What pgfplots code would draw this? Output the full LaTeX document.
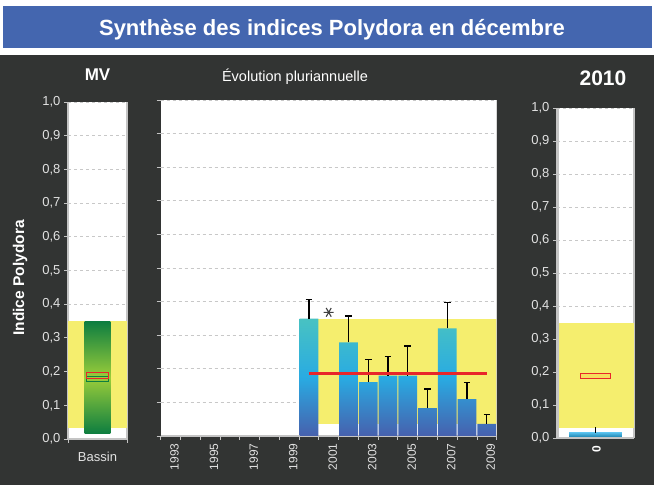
\documentclass[border=0pt]{standalone}
\usepackage{fontspec}
\setmainfont{Liberation Sans}
\usepackage{pgfplots}
\pgfplotsset{compat=1.18}
\usepackage{pgfplotstable}

\definecolor{bgdark}{HTML}{323433}
\definecolor{titleblue}{HTML}{4466AF}
\definecolor{bandyellow}{HTML}{F5EE6E}
\definecolor{ticklab}{HTML}{E2E2E2}
\definecolor{spine}{HTML}{C4C4C4}
\definecolor{gridc}{HTML}{C8C8C8}
\definecolor{barTop}{HTML}{48C2C2}
\definecolor{barMid}{HTML}{29ABE2}
\definecolor{barBot}{HTML}{4760AD}
\definecolor{gDark}{HTML}{0E7E40}
\definecolor{gLight}{HTML}{9ACD3A}
\definecolor{lineRed}{HTML}{E8262A}

\pgfplotstableread{
year val err
2000 0.349 0.057
2002 0.279 0.078
2003 0.160 0.068
2004 0.180 0.057
2005 0.180 0.088
2006 0.083 0.057
2007 0.320 0.077
2008 0.110 0.049
2009 0.036 0.027
}\evol

\pgfplotsset{
  panel/.style={
    scale only axis,
    axis background/.style={fill=white},
    ymin=0, ymax=1,
    ytick={0,0.1,0.2,0.3,0.4,0.5,0.6,0.7,0.8,0.9,1.0},
    ymajorgrids,
    grid style={dashed, gridc, line width=0.6pt},
    tick align=outside,
    major tick length=4pt,
    minor tick length=4pt,
    tick style={draw=spine, line width=0.8pt},
    ytick pos=left,
    xtick pos=bottom,
    tick label style={font=\fontsize{13}{15}\selectfont, text=ticklab},
    yticklabel={\pgfmathprintnumber[assume math mode=true, use comma, fixed, fixed zerofill, precision=1]{\tick}},
  },
}

\begin{document}
\begin{tikzpicture}
\useasboundingbox (0pt,0pt) rectangle (654pt,485pt);
\fill[white] (0pt,0pt) rectangle (654pt,485pt);
\fill[bgdark] (0pt,0pt) rectangle (654pt,429.5pt);
\fill[titleblue] (2.5pt,437pt) rectangle (652pt,479pt);
\node[anchor=base, text=white, font=\fontsize{22}{26}\selectfont\bfseries] at (332pt,449pt) {Synthèse des indices Polydora en décembre};

\node[text=white, font=\fontsize{17}{20}\selectfont\bfseries] at (97.5pt,410pt) {MV};
\node[text=white, font=\fontsize{14.5}{17}\selectfont] at (295pt,408pt) {Évolution pluriannuelle};
\node[text=white, font=\fontsize{21}{24}\selectfont\bfseries] at (603pt,407pt) {2010};
\node[text=white, rotate=90, font=\fontsize{15.5}{18}\selectfont\bfseries] at (20pt,207pt) {Indice Polydora};

% ---------- left panel ----------
\begin{axis}[panel,
  at={(68pt,46pt)}, anchor=south west, width=59pt, height=337pt,
  xmin=-0.5, xmax=0.5,
  xtick={0}, xticklabels={Bassin},
  minor xtick={-0.5,0.5},
  xticklabel style={font=\fontsize{13}{15}\selectfont, text=ticklab, yshift=-6pt},
  axis x line*=bottom, axis y line*=box,
  axis line style={draw=spine, line width=1.5pt},
  major x tick style={draw=none},
]
\addplot[fill=bandyellow, draw=none] coordinates {(-0.5,0.033) (0.5,0.033) (0.5,0.35) (-0.5,0.35)} -- cycle;
\addplot[draw=none, top color=gDark, bottom color=gDark, middle color=gLight] coordinates {(-0.22,0.017) (0.22,0.017) (0.22,0.348) (-0.22,0.348)} -- cycle;
\addplot[draw=gDark, line width=0.9pt] coordinates {(-0.19,0.170) (0.19,0.170) (0.19,0.187) (-0.19,0.187)} -- cycle;
\addplot[draw=lineRed, line width=0.9pt] coordinates {(-0.19,0.181) (0.19,0.181) (0.19,0.196) (-0.19,0.196)} -- cycle;
\end{axis}

% ---------- middle panel ----------
\begin{axis}[panel,
  at={(160.7pt,49pt)}, anchor=south west, width=336pt, height=336pt,
  xmin=1992.5, xmax=2009.5,
  xtick={1993,1995,1997,1999,2001,2003,2005,2007,2009},
  xticklabels={1993,1995,1997,1999,2001,2003,2005,2007,2009},
  minor xtick={1992.5,1993.5,...,2009.5},
  major x tick style={draw=none},
  yticklabels={},
  xticklabel style={rotate=90, anchor=east, font=\fontsize{12}{14}\selectfont, text=ticklab, yshift=-4pt},
  axis x line*=bottom, axis y line*=box,
  axis line style={draw=spine, line width=1.2pt},
  y axis line style={draw=none},
]
\addplot[fill=bandyellow, draw=none] coordinates {(1999.5,0.036) (2009.5,0.036) (2009.5,0.347) (1999.5,0.347)} -- cycle;
\addplot[ybar, bar width=0.95, draw=none, top color=barTop, bottom color=barBot, middle color=barMid] table[x=year, y=val] {\evol};
\addplot[draw=none, forget plot,
  error bars/.cd, y dir=plus, y explicit,
  error bar style={draw=black, solid, line width=1.3pt},
  error mark options={draw=black, solid, line width=1.3pt, mark size=3.3pt, rotate=90}]
  table[x=year, y=val, y error=err] {\evol};
\addplot[only marks, mark=asterisk, mark size=5pt, mark options={rotate=90, draw=black!75, line width=1.1pt}] coordinates {(2001,0.368)};
\addplot[lineRed, line width=3.2pt] coordinates {(2000,0.187) (2009,0.187)};
\draw[spine, line width=1.2pt] (rel axis cs:1,0) -- (rel axis cs:1,1);
\end{axis}

% ---------- right panel ----------
\begin{axis}[panel,
  at={(557pt,47pt)}, anchor=south west, width=77pt, height=330pt,
  xmin=-0.5, xmax=0.5,
  xtick={0}, xticklabels={0},
  major x tick style={draw=none},
  xticklabel style={rotate=90, anchor=east, font=\fontsize{12}{14}\selectfont\bfseries, text=white, yshift=-1pt},
  axis x line*=bottom, axis y line*=box,
  axis line style={draw=spine, line width=1.2pt},
]
\addplot[fill=bandyellow, draw=none] coordinates {(-0.5,0.031) (0.5,0.031) (0.5,0.348) (-0.5,0.348)} -- cycle;
\addplot[draw=none, top color=barMid!80!white, bottom color=barMid!80!black] coordinates {(-0.344,0.004) (0.344,0.004) (0.344,0.016) (-0.344,0.016)} -- cycle;
\addplot[black, line width=1pt] coordinates {(0,0.016) (0,0.032)};
\addplot[draw=lineRed, fill=bandyellow!85!orange, line width=0.9pt] coordinates {(-0.2,0.179) (0.2,0.179) (0.2,0.197) (-0.2,0.197)} -- cycle;
\draw[spine, line width=3pt] (rel axis cs:0,0) -- (rel axis cs:0,1);
\end{axis}
\end{tikzpicture}
\end{document}
